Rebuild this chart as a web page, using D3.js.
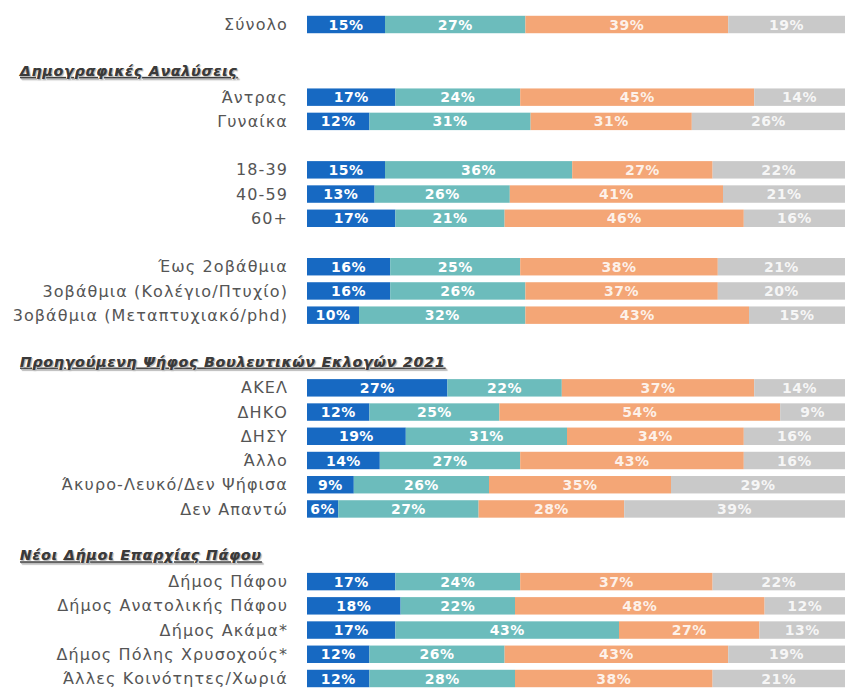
<!DOCTYPE html>
<html>
<head>
<meta charset="utf-8">
<script src="https://cdn.jsdelivr.net/npm/d3@7/dist/d3.min.js"></script>
<style>
  html, body { margin: 0; padding: 0; background: #fff; }
  .cat { font-family: "DejaVu Sans", sans-serif; font-size: 16px; fill: #555; letter-spacing: 1.1px; }
  .head { font-family: "DejaVu Sans", sans-serif; font-size: 14px; font-weight: bold;
          font-style: italic; fill: #3a3a3a; text-decoration: underline; letter-spacing: 0.9px;
          text-shadow: 1px 1px 1px #bbb; }
  .val { font-family: "DejaVu Sans", sans-serif; font-size: 14px; font-weight: bold; fill: #fff; letter-spacing: 0.5px; }
</style>
</head>
<body>
<svg id="chart"></svg>
<script>
const width = 845, height = 688

// rows top to bottom; '' = empty line, '#...' = section heading
const rowOrder = [
  'Σύνολο', '',
  '#Δημογραφικές Αναλύσεις', 'Άντρας', 'Γυναίκα', '',
  '18-39', '40-59', '60+', '',
  'Έως 2οβάθμια', '3οβάθμια (Κολέγιο/Πτυχίο)', '3οβάθμια (Μεταπτυχιακό/phd)', '',
  '#Προηγούμενη Ψήφος Βουλευτικών Εκλογών 2021',
  'ΑΚΕΛ', 'ΔΗΚΟ', 'ΔΗΣΥ', 'Άλλο', 'Άκυρο-Λευκό/Δεν Ψήφισα', 'Δεν Απαντώ', '',
  '#Νέοι Δήμοι Επαρχίας Πάφου',
  'Δήμος Πάφου', 'Δήμος Ανατολικής Πάφου', 'Δήμος Ακάμα*', 'Δήμος Πόλης Χρυσοχούς*', 'Άλλες Κοινότητες/Χωριά'
]

const categories = rowOrder.filter(d => d && d[0] !== '#')

// series, same order as categories
const s1 = [15, 17, 12, 15, 13, 17, 16, 16, 10, 27, 12, 19, 14, 9, 6, 17, 18, 17, 12, 12]
const s2 = [27, 24, 31, 36, 26, 21, 25, 26, 32, 22, 25, 31, 27, 26, 27, 24, 22, 43, 26, 28]
const s3 = [39, 45, 31, 27, 41, 46, 38, 37, 43, 37, 54, 34, 43, 35, 28, 37, 48, 27, 43, 38]
const s4 = [19, 14, 26, 22, 21, 16, 21, 20, 15, 14, 9, 16, 16, 29, 39, 22, 12, 13, 19, 21]

const colors = ['#1769c2', '#6cbcbc', '#f4a676', '#c9c9c9']

const svg = d3.select('#chart').attr('width', width).attr('height', height)

const y = d3.scaleBand()
  .domain(d3.range(rowOrder.length))
  .range([9, 694])
  .padding(0.28)

const x = d3.scaleLinear().domain([0, 100]).range([307, 827])

const rows = categories.map((c, i) => {
  const vals = [s1[i], s2[i], s3[i], s4[i]]
  let acc = 0
  const segs = vals.map((v, k) => {
    const s = { k, v, x0: acc, x1: acc + v }
    acc += v
    return s
  })
  return { cat: c, slot: rowOrder.indexOf(c), segs }
})

// headings
svg.selectAll('text.head')
  .data(rowOrder.map((d, i) => ({ d, i })).filter(o => o.d[0] === '#'))
  .join('text')
  .attr('class', 'head')
  .attr('x', 20)
  .attr('y', o => y(o.i) + y.bandwidth() / 2 - 2)
  .attr('dy', '0.35em')
  .text(o => o.d.slice(1))

const g = svg.selectAll('g.row')
  .data(rows)
  .join('g')
  .attr('class', 'row')
  .attr('transform', r => `translate(0,${y(r.slot)})`)

g.append('text')
  .attr('class', 'cat')
  .attr('x', 288)
  .attr('y', y.bandwidth() / 2)
  .attr('dy', '0.35em')
  .attr('text-anchor', 'end')
  .text(r => r.cat)

// last segment runs out to the right edge, as in the source
const segEnd = s => s.k === 3 ? width : x(s.x1)

g.selectAll('rect')
  .data(r => r.segs)
  .join('rect')
  .attr('x', s => x(s.x0))
  .attr('width', s => segEnd(s) - x(s.x0))
  .attr('height', y.bandwidth())
  .attr('fill', s => colors[s.k])

g.selectAll('text.val')
  .data(r => r.segs)
  .join('text')
  .attr('class', 'val')
  .attr('x', s => (x(s.x0) + segEnd(s)) / 2)
  .attr('y', y.bandwidth() / 2)
  .attr('dy', '0.36em')
  .attr('text-anchor', 'middle')
  .attr('fill-opacity', s => s.k < 2 ? 1 : 0.85)
  .text(s => s.v + '%')
</script>
</body>
</html>
